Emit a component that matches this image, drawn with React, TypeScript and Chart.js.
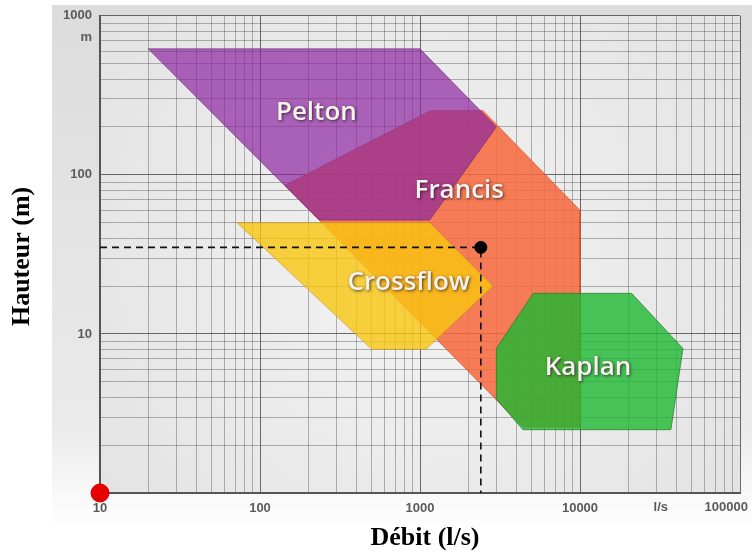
import React, { useEffect, useRef } from 'react';
import { Chart, registerables } from 'chart.js';

Chart.register(...registerables);

// ---- Turbine application ranges (débit l/s, hauteur m) ----
const peltonX = [20, 1000, 3000, 1150, 234, 20];
const peltonY = [620, 620, 200, 52, 52, 620];

const francisX = [143, 1170, 2475, 10000, 10000, 4400, 143];
const francisY = [86, 254, 254, 60, 2.6, 2.6, 86];

const crossflowX = [72, 1150, 2850, 1090, 500, 72];
const crossflowY = [50, 50, 20, 8, 8, 50];

const kaplanX = [5100, 21000, 44000, 37000, 4400, 3000, 3000, 5100];
const kaplanY = [18, 18, 8.1, 2.5, 2.5, 3.9, 8.1, 18];

// ---- Operating point and guides ----
const pointX = [2400];
const pointY = [35];
const guideX = [10, 2400, 2400];
const guideY = [35, 35, 1];
const originX = [10];
const originY = [1];

// ---- Region labels ----
const turbineNames = ['Pelton', 'Francis', 'Crossflow', 'Kaplan'];
const turbineLabelX = [225, 1760, 850, 11220];
const turbineLabelY = [246, 80, 21, 6.1];

// ---- Axis ticks ----
const xTickValues = [10, 100, 1000, 10000, 32000, 100000];
const xTickLabels = ['10', '100', '1000', '10000', 'l/s', '100000'];
const yTickValues = [10, 100, 1000];
const yTickLabels = ['10', '100', '1000'];
const yUnitLabel = 'm';
const xTitle = 'Débit (l/s)';
const yTitle = 'Hauteur (m)';

const X_MIN = 10, X_MAX = 100000, Y_MIN = 1, Y_MAX = 1000;

function logGrid(min: number, max: number): number[] {
  const out: number[] = [];
  for (let e = Math.round(Math.log10(min)); Math.pow(10, e) <= max; e++) {
    for (let k = 1; k <= 9; k++) {
      const v = k * Math.pow(10, e);
      if (v >= min && v <= max) out.push(v);
    }
  }
  return out;
}

const isPow10 = (v: number) => Math.abs(Math.log10(v) - Math.round(Math.log10(v))) < 1e-9;

export default function App() {
  const ref = useRef<HTMLCanvasElement>(null);

  useEffect(() => {
    const canvas = ref.current!;
    const pts = (xs: number[], ys: number[]) => xs.map((x, i) => ({ x, y: ys[i] }));
    const poly = (label: string, xs: number[], ys: number[], fill: string, border: string) => ({
      type: 'line' as const,
      label,
      data: pts(xs, ys),
      backgroundColor: fill,
      borderColor: border,
      borderWidth: 1,
      fill: 'shape',
      pointRadius: 0,
      tension: 0,
      showLine: true,
    });

    const xGrid = logGrid(X_MIN, X_MAX);
    const yGrid = logGrid(Y_MIN, Y_MAX);

    const bgPlugin = {
      id: 'bgPanel',
      beforeDraw(chart: any) {
        const { ctx, chartArea: a } = chart;
        ctx.save();
        const g = ctx.createLinearGradient(0, 5, 0, 528);
        g.addColorStop(0, '#dcdcdc');
        g.addColorStop(0.8, '#eaeaea');
        g.addColorStop(1, '#ffffff');
        ctx.fillStyle = g;
        ctx.fillRect(52, 5, 700, 523);
        const cx = (a.left + a.right) / 2, cy = (a.top + a.bottom) / 2;
        const r = ctx.createRadialGradient(cx, cy + 40, 40, cx, cy, 430);
        r.addColorStop(0, '#f1f1f1');
        r.addColorStop(1, '#e2e2e2');
        ctx.fillStyle = r;
        ctx.fillRect(a.left, a.top, a.right - a.left, a.bottom - a.top);
        ctx.restore();
      },
    };

    const labelPlugin = {
      id: 'regionLabels',
      afterDatasetsDraw(chart: any) {
        const { ctx, scales } = chart;
        ctx.save();
        ctx.font = '600 26px "Open Sans"';
        ctx.textAlign = 'center';
        ctx.textBaseline = 'middle';
        ctx.shadowColor = 'rgba(40,20,30,0.8)';
        ctx.shadowBlur = 3;
        ctx.shadowOffsetX = 1;
        ctx.shadowOffsetY = 1;
        ctx.fillStyle = '#f6f3ee';
        turbineNames.forEach((n, i) => {
          ctx.fillText(n, scales.x.getPixelForValue(turbineLabelX[i]), scales.y.getPixelForValue(turbineLabelY[i]));
        });
        ctx.restore();
      },
    };

    const textPlugin = {
      id: 'axisTexts',
      afterDraw(chart: any) {
        const { ctx, scales, chartArea: a } = chart;
        ctx.save();
        ctx.fillStyle = '#5a5a5a';
        ctx.font = 'bold 13px "Liberation Sans"';
        ctx.textBaseline = 'middle';
        ctx.textAlign = 'right';
        ctx.fillText(yUnitLabel, scales.y.right - 8, scales.y.getPixelForValue(Y_MAX) + 22);
        xTickValues.forEach((v, i) => {
          const onGrid = xGrid.some((g) => Math.abs(g - v) < 1e-9);
          if (onGrid && v !== X_MAX) return;
          const px = scales.x.getPixelForValue(v);
          if (v === X_MAX) {
            ctx.textAlign = 'right';
            ctx.fillText(xTickLabels[i], px + 8, 507);
          } else {
            ctx.textAlign = 'center';
            ctx.fillText(xTickLabels[i], px, 507);
          }
        });
        ctx.fillStyle = '#000';
        ctx.font = 'bold 26px "Liberation Serif"';
        ctx.textAlign = 'center';
        ctx.textBaseline = 'middle';
        ctx.fillText(xTitle, (a.left + a.right) / 2 + 5, 538);
        ctx.translate(22, (a.top + a.bottom) / 2 + 2);
        ctx.rotate(-Math.PI / 2);
        ctx.fillText(yTitle, 0, 0);
        ctx.restore();
      },
    };

    const gridColor = (c: any) => {
      const v = c.tick ? c.tick.value : 0;
      return v && isPow10(v) ? 'rgba(70,70,70,0.8)' : 'rgba(90,90,90,0.45)';
    };

    const chart = new Chart(canvas, {
      type: 'line',
      data: {
        datasets: [
          {
            label: 'Origine',
            data: pts(originX, originY),
            showLine: false,
            pointRadius: 9,
            pointBackgroundColor: '#e80000',
            pointBorderColor: '#d00000',
            pointBorderWidth: 1,
            clip: false,
          } as any,
          {
            label: 'Point',
            data: pts(pointX, pointY),
            showLine: false,
            pointRadius: 6,
            pointBackgroundColor: '#000',
            pointBorderColor: '#000',
            clip: false,
          },
          {
            label: 'Repère',
            data: pts(guideX, guideY),
            borderColor: '#111',
            borderWidth: 1.6,
            borderDash: [7, 5],
            pointRadius: 0,
            fill: false,
            tension: 0,
          },
          poly('Kaplan', kaplanX, kaplanY, 'rgba(29,184,49,0.8)', 'rgba(40,120,40,0.7)'),
          poly('Crossflow', crossflowX, crossflowY, 'rgba(249,197,15,0.8)', 'rgba(190,150,30,0.6)'),
          poly('Pelton', peltonX, peltonY, 'rgba(139,39,160,0.7)', 'rgba(110,40,120,0.6)'),
          poly('Francis', francisX, francisY, 'rgba(246,103,59,0.85)', 'rgba(200,80,50,0.6)'),
        ] as any,
      },
      options: {
        responsive: false,
        animation: false,
        layout: { padding: { top: 15, right: 12, left: 0, bottom: 0 } },
        plugins: { legend: { display: false }, tooltip: { enabled: false } },
        scales: {
          x: {
            type: 'logarithmic',
            min: X_MIN,
            max: X_MAX,
            afterBuildTicks: (s: any) => { s.ticks = xGrid.map((v) => ({ value: v, major: isPow10(v) })); },
            afterFit: (s: any) => { s.height = 60; },
            grid: { color: gridColor, lineWidth: 1, drawTicks: false },
            border: { color: '#555', width: 2 },
            ticks: {
              autoSkip: false,
              maxRotation: 0,
              padding: 8,
              color: '#5a5a5a',
              font: { family: 'Liberation Sans', size: 13, weight: 'bold' },
              callback: (v: any) => {
                const n = Number(v);
                if (n === X_MAX) return '';
                const i = xTickValues.indexOf(n);
                return i >= 0 ? xTickLabels[i] : '';
              },
            },
          },
          y: {
            type: 'logarithmic',
            min: Y_MIN,
            max: Y_MAX,
            afterBuildTicks: (s: any) => { s.ticks = yGrid.map((v) => ({ value: v, major: isPow10(v) })); },
            afterFit: (s: any) => { s.width = 100; },
            grid: { color: gridColor, lineWidth: 1, drawTicks: false },
            border: { color: '#555', width: 2 },
            ticks: {
              autoSkip: false,
              padding: 8,
              color: '#5a5a5a',
              font: { family: 'Liberation Sans', size: 13, weight: 'bold' },
              callback: (v: any) => {
                const i = yTickValues.indexOf(Number(v));
                return i >= 0 ? yTickLabels[i] : '';
              },
            },
          },
        },
      } as any,
      plugins: [bgPlugin, labelPlugin, textPlugin],
    });

    return () => chart.destroy();
  }, []);

  return (
    <div style={{ position: 'absolute', left: 0, top: 0, width: 752, height: 553 }}>
      <canvas ref={ref} width={752} height={553} style={{ display: 'block' }} />
    </div>
  );
}
